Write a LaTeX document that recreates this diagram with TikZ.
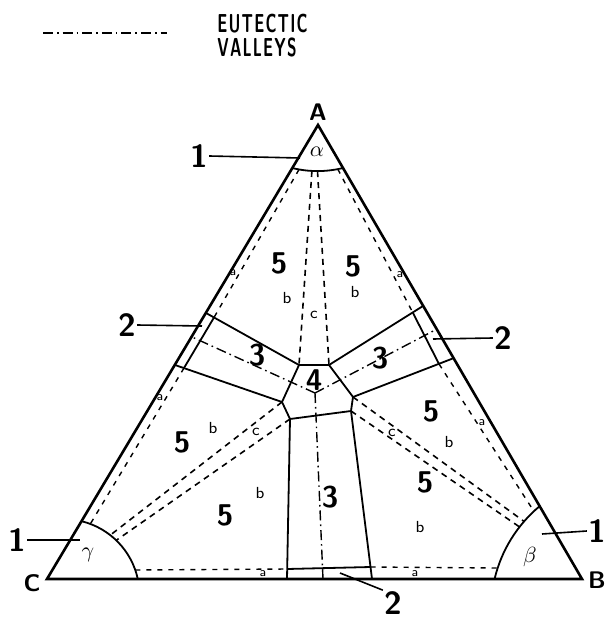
\documentclass[tikz,border=0pt]{standalone}
\usepackage{amsmath, amssymb}
\usepackage{tikz}
\usetikzlibrary{arrows.meta, positioning, calc}
\colorlet{inkline}{black}

\begin{document}
\begin{tikzpicture}[x=0.5pt, y=-0.5pt,
  every node/.style={font=\sffamily, inner sep=1pt, text=inkline},
  sideline/.style={draw=inkline, line width=1.3pt, line join=miter},
  wall/.style={draw=inkline, line width=0.9pt},
  bline/.style={draw=inkline, line width=0.8pt, dash pattern=on 3pt off 2.5pt},
  aline/.style={draw=inkline, line width=0.7pt, dash pattern=on 2.5pt off 3pt},
  valley/.style={draw=inkline, line width=0.7pt, dash pattern=on 5pt off 2pt on 0.8pt off 2pt},
  leader/.style={draw=inkline, line width=0.8pt},
  numlbl/.style={font=\sffamily\bfseries\fontsize{15}{15}\selectfont},
  outlbl/.style={inner sep=0.5pt, font=\sffamily\bfseries\fontsize{16}{16}\selectfont},
  vlbl/.style={font=\sffamily\bfseries\fontsize{12}{12}\selectfont},
  sublbl/.style={font=\sffamily\fontsize{8}{8}\selectfont},
  albl/.style={font=\sffamily\fontsize{6.5}{6.5}\selectfont},
  legendtxt/.style={anchor=west, inner sep=0pt, font=\sffamily\bfseries\fontsize{13}{13}\selectfont},
  phase/.style={font=\fontsize{11}{11}\selectfont}]
  \useasboundingbox (0,0) rectangle (605,620);

  \draw[valley] (43,33) -- (167,33);
  \node[legendtxt] (eut) at (217,24) {\scalebox{0.6}[1]{E\kern1ptU\kern1ptT\kern1ptE\kern1ptC\kern1ptT\kern1ptI\kern1ptC}};
  \node[legendtxt] (val) at (217,47) {\scalebox{0.6}[1]{V\kern1ptA\kern1ptL\kern1ptL\kern1ptE\kern1ptY\kern1ptS}};

  \coordinate (A) at (318,125);
  \coordinate (B) at (582,579);
  \coordinate (C) at (47,579);
  \draw[sideline] (A) -- (B) -- (C) -- cycle;
  \node[vlbl] (la) at (318,112) {A};
  \node[vlbl] (lb) at (597,580) {B};
  \node[vlbl] (lc) at (32,583) {C};

  \draw[wall] (292.1,168) arc[start angle=103.8, end angle=76.2, radius=106.6];
  \draw[wall] (81.9,521.3) arc[start angle=-76, end angle=-12.1, radius=76];
  \draw[wall] (494.6,578.9) arc[start angle=193.3, end angle=230.1, radius=135];

  \coordinate (h1) at (299,365);
  \coordinate (h2) at (329,365);
  \coordinate (h3) at (353,397);
  \coordinate (h4) at (351,411);
  \coordinate (h5) at (290,419);
  \coordinate (h6) at (282,402);
  \draw[wall] (h1) -- (h2) -- (h3) -- (h4) -- (h5) -- (h6) -- cycle;

  \coordinate (l1) at (206,313);
  \coordinate (l2) at (175,365);
  \coordinate (l3) at (214,317.5);
  \coordinate (l4) at (184,368);
  \draw[wall] (l1) -- (h1);
  \draw[wall] (l2) -- (h6);
  \draw[wall] (l3) -- (l4);

  \coordinate (r1) at (423,306);
  \coordinate (r2) at (454,358);
  \coordinate (r3) at (413,313);
  \coordinate (r4) at (439,364);
  \draw[wall] (r1) -- (h2);
  \draw[wall] (r2) -- (h3);
  \draw[wall] (r3) -- (r4);

  \coordinate (d1) at (287,579);
  \coordinate (d2) at (372,579);
  \coordinate (d3) at (287.2,569);
  \coordinate (d4) at (370.5,567);
  \draw[wall] (h5) -- (d1);
  \draw[wall] (h4) -- (d2);
  \draw[wall] (d3) -- (d4);

  \coordinate (o) at (315,393);
  \coordinate (vl) at (192,337);
  \coordinate (vr) at (437,329);
  \coordinate (vd) at (323,579);
  \draw[valley] (o) -- (vl);
  \draw[valley] (o) -- (vr);
  \draw[valley] (o) -- (vd);

  \draw[bline] (311.9,171) -- (h1);
  \draw[bline] (317.5,171.1) -- (h2);
  \draw[bline] (h6) -- (110.3,535.1);
  \draw[bline] (h5) -- (116.3,540.3);
  \draw[bline] (h3) -- (524,521.4);
  \draw[bline] (h4) -- (519.6,527);

  \draw[aline] (299,169.5) -- (l3);
  \draw[aline] (337.8,169.1) -- (r3);
  \draw[aline] (l4) -- (90.3,524);
  \draw[aline] (r4) -- (533.9,511.3);
  \draw[aline] (135.3,570) -- (d3);
  \draw[aline] (d4) -- (497.7,568);

  \node[phase] (pa) at (317,152) {$\alpha$};
  \node[phase] (pg) at (88,555) {$\gamma$};
  \node[phase] (pb) at (530,557) {$\beta$};

  \node[numlbl] (f1) at (279,263) {5};
  \node[numlbl] (f2) at (353,266) {5};
  \node[numlbl] (f3) at (182,442) {5};
  \node[numlbl] (f4) at (225,515) {5};
  \node[numlbl] (f5) at (431,411) {5};
  \node[numlbl] (f6) at (425,482) {5};
  \node[numlbl] (t1) at (257,355) {3};
  \node[numlbl] (t2) at (380,358) {3};
  \node[numlbl] (t3) at (330,497) {3};
  \node[numlbl] (q1) at (314,380) {4};

  \node[sublbl] (b1) at (287,298) {b};
  \node[sublbl] (b2) at (355,292) {b};
  \node[sublbl] (b3) at (213,428) {b};
  \node[sublbl] (b4) at (260,493) {b};
  \node[sublbl] (b5) at (449,442) {b};
  \node[sublbl] (b6) at (420,527) {b};
  \node[sublbl] (c1) at (314,315) {c};
  \node[sublbl] (c2) at (256,432) {c};
  \node[sublbl] (c3) at (392,433) {c};
  \node[albl] (a1) at (233,273) {a};
  \node[albl] (a2) at (400,275) {a};
  \node[albl] (a3) at (160,398) {a};
  \node[albl] (a4) at (482,423) {a};
  \node[albl] (a5) at (263,574) {a};
  \node[albl] (a6) at (415,574) {a};

  \node[outlbl] (n1a) at (199,156) {1};
  \coordinate (e1a) at (300,158);
  \draw[leader] (n1a.east) -- (e1a);
  \node[outlbl] (n1b) at (17,540) {1};
  \coordinate (e1b) at (80,540);
  \draw[leader] (n1b.east) -- (e1b);
  \node[outlbl] (n1c) at (597,531) {1};
  \coordinate (e1c) at (542,534);
  \draw[leader] (e1c) -- (n1c.west);
  \node[outlbl] (n2a) at (127,325) {2};
  \coordinate (e2a) at (202,326);
  \draw[leader] (n2a.east) -- (e2a);
  \node[outlbl] (n2b) at (503,338) {2};
  \coordinate (e2b) at (433,339);
  \draw[leader] (e2b) -- (n2b.west);
  \node[outlbl] (n2c) at (393,603) {2};
  \coordinate (e2c) at (340,573);
  \draw[leader] (e2c) -- (n2c.north west);
\end{tikzpicture}
\end{document}
